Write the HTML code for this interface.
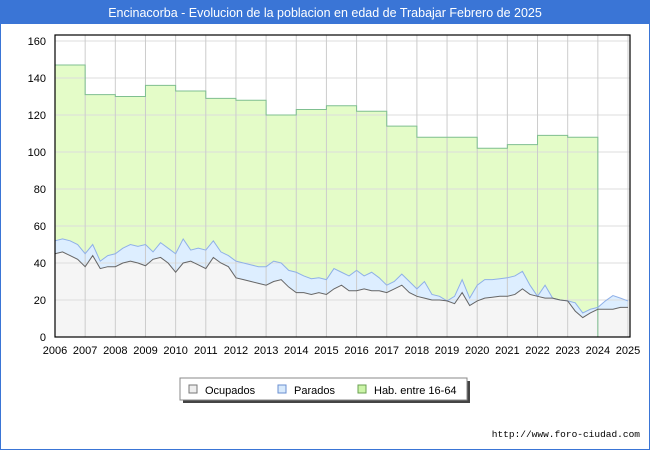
<!DOCTYPE html>
<html><head><meta charset="utf-8"><style>
body{margin:0;background:#fff;font-family:"Liberation Sans","DejaVu Sans",sans-serif}
#wrap{position:relative;width:650px;height:450px;overflow:hidden}
</style></head><body>
<div id="wrap">
<svg id="svg" width="650" height="450" xmlns="http://www.w3.org/2000/svg">
<rect x="0.5" y="0.5" width="649" height="449" fill="#fff" stroke="#3a75d6"/>
<rect x="0" y="0" width="650" height="24" fill="#3a75d6"/>
<text x="325" y="17" text-anchor="middle" fill="#fff" font-size="12.5">Encinacorba - Evolucion de la poblacion en edad de Trabajar Febrero de 2025</text>
<g id="bg"></g>
<g id="marks"></g>
<g id="grid"></g>
<g id="lines"></g>
<g id="axes"></g>
<g>
<rect x="183" y="381" width="287" height="22" fill="#444"/>
<rect x="180" y="378" width="287" height="22" fill="#fff" stroke="#888"/>
<rect x="189" y="385" width="8" height="8" fill="#eee" stroke="#777"/>
<text x="205" y="394" font-size="11">Ocupados</text>
<rect x="278" y="385" width="8" height="8" fill="#d8eafc" stroke="#6a8fd0"/>
<text x="294" y="394" font-size="11">Parados</text>
<rect x="358" y="385" width="8" height="8" fill="#ccf5a8" stroke="#6aa050"/>
<text x="374" y="394" font-size="11">Hab. entre 16-64</text>
</g>
<text x="640" y="437" text-anchor="end" font-size="9.5" font-family="Liberation Mono, monospace">http://www.foro-ciudad.com</text>
</svg>
</div>
<script>
const years=[2006,2007,2008,2009,2010,2011,2012,2013,2014,2015,2016,2017,2018,2019,2020,2021,2022,2023,2024,2025];
const yTicks=[0,20,40,60,80,100,120,140,160];
const hab=[147,131,130,136,133,129,128,120,123,125,122,114,108,108,102,104,109,108];
const ocupados=[45,46,44,42,38,44,37,38,38,40,41,40,38.5,42,43,40,35,40,41,39,37,43,40,38,32,31,30,29,28,30,31,27,24,24,23,24,23,26,28,25,25,26,25,25,24,26,28,24,22,21,20,20,19.5,18,24,17,19.5,21,21.5,22,22,23,26,23,22,21,21,20,19.5,14,10.5,13,15,15,15,16,16];
const parados=[7,7,8,8,7,6,4,6,7,8,9,9,11.5,4,8,8,10,13,6,9,10,9,6,6,9,9,9,9,10,11,9,9,11,9,8.5,8,8,11,7,8,11,7,10,7,4,4,6,6,4,9,3,2,0,4,7,4,8.5,10,9.5,9.5,10,10,9.5,5,0,7,0,0,0,4.5,2.5,2,1,4.5,7.4,5,3.5];
const X0=55,X1=628,Y0=337,Y1=41;
const xs=t=>X0+(t-2006)/(2025-2006)*(X1-X0);
const ys=v=>Y0-v/160*(Y0-Y1);
const NS="http://www.w3.org/2000/svg";
function mk(tag,attrs,parent){const e=document.createElementNS(NS,tag);for(const k in attrs)e.setAttribute(k,attrs[k]);document.getElementById(parent).appendChild(e);return e;}
const bg=mk('rect',{x:X0,y:35,width:X1-X0+2,height:Y0-35,fill:'#fff'},'bg');


yTicks.forEach(v=>{const l=mk('line',{x1:X0,x2:X1+2,y1:ys(v),y2:ys(v),stroke:'#ddd'},'grid');


const t=mk('text',{x:46,y:ys(v)+4,'text-anchor':'end','font-size':11},'axes');t.textContent=v;

});
years.forEach(y=>{const l=mk('line',{x1:xs(y),x2:xs(y),y1:35,y2:Y0,stroke:'#ccc'},'grid');


const t=mk('text',{x:xs(y),y:354,'text-anchor':'middle','font-size':11},'axes');t.textContent=y;

});
let hp=`M${xs(2006)},${Y0}`;
hab.forEach((v,i)=>{hp+=` L${xs(2006+i)},${ys(v)} L${xs(2007+i)},${ys(v)}`;});
hp+=` L${xs(2006+hab.length)},${Y0}`;
const ha=mk('path',{d:hp+' Z',fill:'#e4fcc8'},'marks');


const hl=mk('path',{d:hp,fill:'none',stroke:'#7fbf90','stroke-width':1},'lines');


const tq=i=>2006+i/4;
let tot=ocupados.map((o,i)=>o+parados[i]);
let pp=`M${xs(2006)},${Y0}`+tot.map((v,i)=>` L${xs(tq(i))},${ys(v)}`).join('')+` L${xs(tq(tot.length-1))},${Y0} Z`;
const pa=mk('path',{d:pp,fill:'#ddeeff'},'marks');


const pl=mk('polyline',{points:tot.map((v,i)=>xs(tq(i))+','+ys(v)).join(' '),fill:'none',stroke:'#8fb0e8','stroke-width':1},'lines');


let op=`M${xs(2006)},${Y0}`+ocupados.map((v,i)=>` L${xs(tq(i))},${ys(v)}`).join('')+` L${xs(tq(ocupados.length-1))},${Y0} Z`;
const oa=mk('path',{d:op,fill:'#f5f5f5'},'marks');


const ol=mk('polyline',{points:ocupados.map((v,i)=>xs(tq(i))+','+ys(v)).join(' '),fill:'none',stroke:'#666','stroke-width':1},'lines');


const fr=mk('rect',{x:X0,y:35,width:X1-X0+2,height:Y0-35,fill:'none',stroke:'#000','stroke-width':1.2},'axes');


</script>
</body></html>
